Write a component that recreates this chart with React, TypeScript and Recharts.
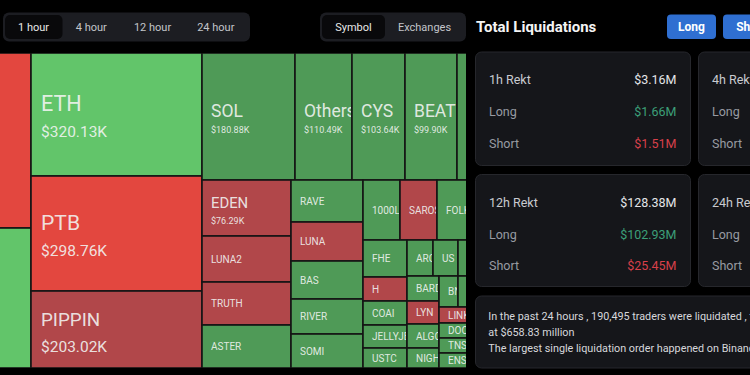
import React from 'react';
import { Treemap } from 'recharts';

// ---- data (values in thousands of USD, 1 hour liquidations by symbol) ----
const symbols = [
  'BTC', 'HYPE', 'ETH', 'PTB', 'PIPPIN', 'SOL', 'Others', 'CYS', 'BEAT', 'XRP',
  'EDEN', 'LUNA2', 'TRUTH', 'ASTER', 'RAVE', 'LUNA', 'BAS', 'RIVER', 'SOMI',
  '1000LUNC', 'SAROS', 'FOLK', 'DOGE', 'FHE', 'H', 'COAI', 'JELLYJELLY', 'USTC',
  'ARC', 'US', 'SUI', 'ADA', 'BARD', 'LYN', 'ALGO', 'NIGHT', 'BN', 'WLD', 'AVAX', 'PEPE',
  'LINK', 'DOOD', 'TNSR', 'ENSO', 'JTO', 'MEW', 'ZORA',
];
const liquidationsK = [
  491.3, 393.1, 320.13, 298.76, 203.02, 180.88, 110.49, 103.64, 99.9, 96.6,
  76.29, 62.5, 57.8, 58.7, 46.5, 43.2, 41.3, 38.5, 36.6,
  34.2, 33.9, 32.0, 31.7, 24.6, 15.8, 16.1, 15.4, 14.0,
  14.1, 13.8, 13.6, 13.4, 12.0, 11.2, 11.9, 9.8, 9.0, 8.1, 7.8, 7.3,
  7.81, 7.32, 7.32, 7.32, 12.0, 11.0, 10.5,
];
// rb = strong red, gb = strong green, r = red, g = green
const tones = [
  'rb', 'gb', 'gb', 'rb', 'r', 'g', 'g', 'g', 'g', 'g',
  'r', 'r', 'r', 'g', 'g', 'r', 'g', 'g', 'g',
  'g', 'r', 'g', 'g', 'g', 'r', 'g', 'g', 'g',
  'g', 'g', 'g', 'g', 'g', 'r', 'g', 'g', 'g', 'g', 'g', 'g',
  'r', 'g', 'g', 'g', 'g', 'g', 'g',
];

const timeTabs = ['1 hour', '4 hour', '12 hour', '24 hour'];
const viewTabs = ['Symbol', 'Exchanges'];

const rektTitles = ['1h Rekt', '4h Rekt', '12h Rekt', '24h Rekt'];
const rektTotals = ['$3.16M', '', '$128.38M', ''];
const rektLongs = ['$1.66M', '', '$102.93M', ''];
const rektShorts = ['$1.51M', '', '$25.45M', ''];

const infoLines = [
  'In the past 24 hours , 190,495 traders were liquidated , the total liquidations comes in',
  'at $658.83 million',
  'The largest single liquidation order happened on Binance - BTCUSDT',
];

const treeData = symbols.map((name, i) => ({ name, value: liquidationsK[i], tone: tones[i] }));

const CELL_COLORS: Record<string, string> = {
  gb: '#62C56A',
  rb: '#E3473F',
  g: '#4F9A57',
  r: '#B1474A',
};

const FONT = 'Roboto, "Noto Sans", Arial, sans-serif';

// the treemap is wider than the visible panel (cropped on both sides)
const TREE_LEFT = -153;
const TREE_TOP = 53;
const TREE_W = 660;
const TREE_H = 315;
const PANEL_W = 466;

function renderCell(props: any) {
  const { x, y, width, height, depth, name, value, tone } = props;
  if (depth !== 1 || !width || !height) return <g />;
  const area = width * height;
  const showValue = value >= 70;
  const big = showValue && width > 150;
  const cy = height / 2;
  let labelSize = 10;
  let valueSize = 9;
  let labelY = cy + 3.5;
  let valueY = cy + 16;
  if (showValue) {
    labelSize = big ? 8.5 + Math.sqrt(area) * 0.09 : height > 100 ? 17.5 : 8.5 + Math.sqrt(area) * 0.09;
    valueSize = big ? 15.5 : 9;
    labelY = big ? cy - 3.5 : cy;
    valueY = big ? cy + 22 : cy + 16;
  }
  const padX = big ? 10 : 9;
  const pageLabelX = x + padX + TREE_LEFT;
  const labelVisible = pageLabelX >= 0 && pageLabelX < PANEL_W;
  return (
    <g>
      <rect x={x} y={y} width={width} height={height} fill={CELL_COLORS[tone]} stroke="#141414" strokeWidth={1.6} />
      {labelVisible && (
        <svg x={x + 1} y={y + 1} width={Math.max(0, width - 2)} height={Math.max(0, height - 2)} overflow="hidden">
          <text x={padX - 1} y={labelY - 1} fontSize={labelSize} fill="#f2f4f2" fillOpacity={0.9} fontFamily={FONT}>
            {name}
          </text>
          {showValue && (
            <text x={padX - 1} y={valueY - 1} fontSize={valueSize} fill="#f2f4f2" fillOpacity={0.9} fontFamily={FONT}>
              {`$${value.toFixed(2)}K`}
            </text>
          )}
        </svg>
      )}
    </g>
  );
}

function Card({ x, y, w, h, i }: { x: number; y: number; w: number; h: number; i: number }) {
  const lx = x + 13.5;
  const rx = x + w - 14;
  return (
    <g>
      <rect x={x} y={y} width={w} height={h} rx={6} fill="#15161a" stroke="#26272c" strokeWidth={1} />
      <text x={lx} y={y + 32} fontSize={12.5} fill="#c9cbd0" fontFamily={FONT}>{rektTitles[i]}</text>
      {rektTotals[i] && (
        <text x={rx} y={y + 32} fontSize={12.5} fill="#e4e5e8" textAnchor="end" fontFamily={FONT}>{rektTotals[i]}</text>
      )}
      <text x={lx} y={y + 64} fontSize={12.5} fill="#989ba2" fontFamily={FONT}>Long</text>
      {rektLongs[i] && (
        <text x={rx} y={y + 64} fontSize={12.5} fill="#3c9f78" textAnchor="end" fontFamily={FONT}>{rektLongs[i]}</text>
      )}
      <text x={lx} y={y + 95.5} fontSize={12.5} fill="#989ba2" fontFamily={FONT}>Short</text>
      {rektShorts[i] && (
        <text x={rx} y={y + 95.5} fontSize={12.5} fill="#d8404a" textAnchor="end" fontFamily={FONT}>{rektShorts[i]}</text>
      )}
    </g>
  );
}

export default function App() {
  const timeCenters = [33.5, 91.3, 152.5, 215.8];
  const viewCenters = [353.5, 424.5];
  return (
    <div
      style={{
        position: 'fixed',
        left: 0,
        top: 0,
        width: 750,
        height: 375,
        overflow: 'hidden',
        background: '#000',
        fontFamily: FONT,
      }}
    >
      <div style={{ position: 'absolute', left: 0, top: 0, width: PANEL_W, height: 375, overflow: 'hidden' }}>
        <div style={{ position: 'absolute', left: TREE_LEFT, top: TREE_TOP }}>
          <Treemap
            width={TREE_W}
            height={TREE_H}
            data={treeData}
            dataKey="value"
            nameKey="name"
            aspectRatio={(1 + Math.sqrt(5)) / 2}
            isAnimationActive={false}
            content={renderCell as any}
          />
        </div>
      </div>
      <svg width={750} height={375} style={{ position: 'absolute', left: 0, top: 0, pointerEvents: 'none' }}>
        {/* time tabs */}
        <rect x={3} y={12.5} width={247} height={29} rx={6} fill="#1c1d22" />
        <rect x={5} y={15} width={57.5} height={24} rx={5} fill="#09090b" />
        {timeTabs.map((t, i) => (
          <text key={t} x={timeCenters[i]} y={31.4} fontSize={11} textAnchor="middle" fill={i === 0 ? '#e8e8e8' : '#c3c5ca'} fontFamily={FONT}>
            {t}
          </text>
        ))}
        {/* view tabs */}
        <rect x={320} y={12.5} width={146} height={29} rx={6} fill="#1c1d22" />
        <rect x={322} y={15} width={63} height={24} rx={5} fill="#09090b" />
        {viewTabs.map((t, i) => (
          <text key={t} x={viewCenters[i]} y={31.4} fontSize={11} textAnchor="middle" fill={i === 0 ? '#e8e8e8' : '#c3c5ca'} fontFamily={FONT}>
            {t}
          </text>
        ))}
        {/* right panel */}
        <text x={476} y={32.3} fontSize={15} fontWeight={700} fill="#f4f4f4" fontFamily={FONT}>Total Liquidations</text>
        <rect x={667} y={14.5} width={49} height={24.5} rx={4} fill="#2f6fd1" />
        <text x={691.5} y={30.8} fontSize={12} fontWeight={700} textAnchor="middle" fill="#ffffff" fontFamily={FONT}>Long</text>
        <rect x={723} y={14.5} width={56} height={24.5} rx={4} fill="#2f6fd1" />
        <text x={751} y={30.8} fontSize={12} fontWeight={700} textAnchor="middle" fill="#ffffff" fontFamily={FONT}>Short</text>
        <Card x={475.5} y={52} w={215} h={113.5} i={0} />
        <Card x={698.5} y={52} w={215} h={113.5} i={1} />
        <Card x={475.5} y={174.5} w={215} h={112} i={2} />
        <Card x={698.5} y={174.5} w={215} h={112} i={3} />
        <rect x={475.5} y={296} width={420} height={72} rx={6} fill="#15161a" stroke="#26272c" strokeWidth={1} />
        {infoLines.map((l, i) => (
          <text key={i} x={488.3} y={320 + i * 15.9} fontSize={10.8} fill="#d7d8dc" fontFamily={FONT}>
            {l}
          </text>
        ))}
      </svg>
    </div>
  );
}
